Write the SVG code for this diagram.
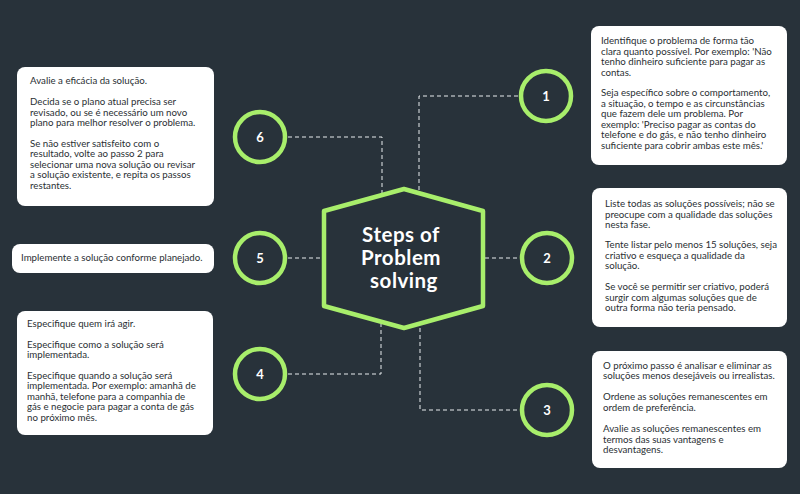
<svg xmlns="http://www.w3.org/2000/svg" width="800" height="494" viewBox="0 0 800 494">
<style>
.bg{fill:#28323a}
.box{fill:#ffffff}
.t{font-family:Lato,"Liberation Sans",sans-serif;font-size:9.7px;fill:#2a2f33}
.ring{fill:none;stroke:#a8ee6b;stroke-width:4.5}
.num{font-family:Lato,"Liberation Sans",sans-serif;font-size:13px;font-weight:700;fill:#ffffff;text-anchor:middle}
.conn{fill:none;stroke:#e8ecee;stroke-width:1;stroke-dasharray:4 3}
.hex{fill:#28323a;stroke:#a8ee6b;stroke-width:4.5;stroke-linejoin:round}
.title{font-family:Lato,"Liberation Sans",sans-serif;font-size:20.5px;font-weight:700;fill:#ffffff;text-anchor:middle;letter-spacing:0.5px}
</style>
<rect class="bg" x="0" y="0" width="800" height="494"/>
<g id="connectors">
<path class="conn" d="M419,190 V96 H520"/>
<path class="conn" d="M288,137 H382 V195"/>
<path class="conn" d="M288,258 H322"/>
<path class="conn" d="M485,258 H520"/>
<path class="conn" d="M288,374 H381 V324"/>
<path class="conn" d="M420,328 V410 H520"/>
</g>
<g id="center">
<path class="hex" d="M404,189 L483,211 L483,306 L404,328 L324,306 L324,211 Z"/>
<text class="title" x="401" y="242">Steps of</text>
<text class="title" x="401" y="265">Problem</text>
<text class="title" x="404" y="288">solving</text>
</g>
<g id="step1">
<circle class="ring" cx="546" cy="96" r="25"/>
<text class="num" x="546" y="100.5">1</text>
<rect class="box" x="591" y="26" width="196" height="139" rx="8"/>
<text class="t" x="601" y="44">Identifique o problema de forma tão</text>
<text class="t" x="601" y="54.5">clara quanto possível. Por exemplo: 'Não</text>
<text class="t" x="601" y="65">tenho dinheiro suficiente para pagar as</text>
<text class="t" x="601" y="75.5">contas.</text>
<text class="t" x="601" y="96">Seja específico sobre o comportamento,</text>
<text class="t" x="601" y="106.5">a situação, o tempo e as circunstâncias</text>
<text class="t" x="601" y="117">que fazem dele um problema. Por</text>
<text class="t" x="601" y="127.5">exemplo: 'Preciso pagar as contas do</text>
<text class="t" x="601" y="138">telefone e do gás, e não tenho dinheiro</text>
<text class="t" x="601" y="148.5">suficiente para cobrir ambas este mês.'</text>
</g>
<g id="step2">
<circle class="ring" cx="547" cy="258" r="25"/>
<text class="num" x="547" y="262.5">2</text>
<rect class="box" x="592" y="188" width="195" height="139" rx="8"/>
<text class="t" x="605" y="207">Liste todas as soluções possíveis; não se</text>
<text class="t" x="605" y="217.5">preocupe com a qualidade das soluções</text>
<text class="t" x="605" y="228">nesta fase.</text>
<text class="t" x="605" y="248">Tente listar pelo menos 15 soluções, seja</text>
<text class="t" x="605" y="258.5">criativo e esqueça a qualidade da</text>
<text class="t" x="605" y="269">solução.</text>
<text class="t" x="605" y="290">Se você se permitir ser criativo, poderá</text>
<text class="t" x="605" y="300.5">surgir com algumas soluções que de</text>
<text class="t" x="605" y="311">outra forma não teria pensado.</text>
</g>
<g id="step3">
<circle class="ring" cx="547" cy="410" r="25"/>
<text class="num" x="547" y="414.5">3</text>
<rect class="box" x="592" y="351" width="195" height="117" rx="8"/>
<text class="t" x="603" y="368.5">O próximo passo é analisar e eliminar as</text>
<text class="t" x="603" y="379">soluções menos desejáveis ou irrealistas.</text>
<text class="t" x="603" y="400">Ordene as soluções remanescentes em</text>
<text class="t" x="603" y="410.5">ordem de preferência.</text>
<text class="t" x="603" y="432">Avalie as soluções remanescentes em</text>
<text class="t" x="603" y="442.5">termos das suas vantagens e</text>
<text class="t" x="603" y="453">desvantagens.</text>
</g>
<g id="step4">
<circle class="ring" cx="260" cy="374" r="25"/>
<text class="num" x="260" y="378.5">4</text>
<rect class="box" x="17" y="311" width="196" height="124" rx="8"/>
<text class="t" x="27" y="327">Especifique quem irá agir.</text>
<text class="t" x="27" y="347.5">Especifique como a solução será</text>
<text class="t" x="27" y="358">implementada.</text>
<text class="t" x="27" y="378.5">Especifique quando a solução será</text>
<text class="t" x="27" y="389">implementada. Por exemplo: amanhã de</text>
<text class="t" x="27" y="399.5">manhã, telefone para a companhia de</text>
<text class="t" x="27" y="410">gás e negocie para pagar a conta de gás</text>
<text class="t" x="27" y="420.5">no próximo mês.</text>
</g>
<g id="step5">
<circle class="ring" cx="260" cy="258" r="25"/>
<text class="num" x="260" y="262.5">5</text>
<rect class="box" x="12" y="244" width="202" height="29" rx="8"/>
<text class="t" x="21" y="261">Implemente a solução conforme planejado.</text>
</g>
<g id="step6">
<circle class="ring" cx="260" cy="137" r="25"/>
<text class="num" x="260" y="141.5">6</text>
<rect class="box" x="17" y="67" width="197" height="139" rx="8"/>
<text class="t" x="30" y="84">Avalie a eficácia da solução.</text>
<text class="t" x="30" y="105">Decida se o plano atual precisa ser</text>
<text class="t" x="30" y="115.5">revisado, ou se é necessário um novo</text>
<text class="t" x="30" y="126">plano para melhor resolver o problema.</text>
<text class="t" x="30" y="146.5">Se não estiver satisfeito com o</text>
<text class="t" x="30" y="157">resultado, volte ao passo 2 para</text>
<text class="t" x="30" y="167.5">selecionar uma nova solução ou revisar</text>
<text class="t" x="30" y="178">a solução existente, e repita os passos</text>
<text class="t" x="30" y="188.5">restantes.</text>
</g>
</svg>
